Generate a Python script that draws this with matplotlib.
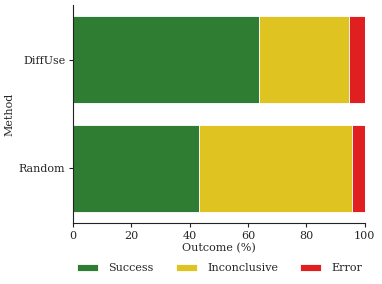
import matplotlib
matplotlib.use("Agg")
import matplotlib.pyplot as plt
import numpy as np

methods = ["Random", "DiffUse"]
outcomes = ["Success", "Inconclusive", "Error"]
success = [43.1, 63.9]
inconclusive = [52.4, 30.8]
error = [4.5, 5.3]
colors = ["#2e7d32", "#dfc321", "#e02020"]

plt.rcParams["font.family"] = ["DejaVu Serif"]
plt.rcParams["font.size"] = 8
plt.rcParams["text.color"] = "#262626"

fig = plt.figure(figsize=(3.82, 2.84), dpi=100)
ax = fig.add_axes([0.191, 0.215, 0.764, 0.767])

y = np.arange(len(methods))
left = np.zeros(len(methods))
for vals, lab, col in zip([success, inconclusive, error], outcomes, colors):
    ax.barh(y, vals, left=left, height=0.8, color=col, edgecolor="white",
            linewidth=0.6, label=lab)
    left = left + np.array(vals)

ax.set_yticks(y)
ax.set_yticklabels(methods)
ax.set_ylim(-0.5, 1.5)
ax.set_xlim(0, 100)
ax.set_xticks([0, 20, 40, 60, 80, 100])
ax.set_xlabel("Outcome (%)", color="#262626", labelpad=1.5)
ax.set_ylabel("Method", color="#262626", labelpad=3)
ax.spines["top"].set_visible(False)
ax.spines["right"].set_visible(False)
ax.tick_params(labelcolor="#262626", color="#222222", length=3, width=0.8, pad=2.5)
for s in ["left", "bottom"]:
    ax.spines[s].set_linewidth(0.8)
    ax.spines[s].set_color("#222222")

fig.legend(loc="center", bbox_to_anchor=(0.575, 0.056), ncol=3, frameon=False,
           handlelength=1.9, handleheight=0.55, columnspacing=2.0, handletextpad=0.9)

fig.savefig("out.png", dpi=100)
